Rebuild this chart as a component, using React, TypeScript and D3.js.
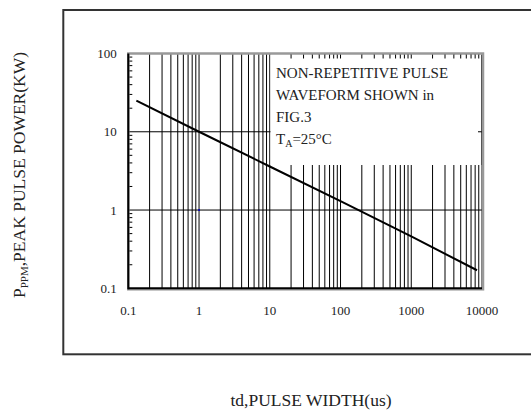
import * as d3 from 'd3'

// pulse width (us) vs peak pulse power (kW)
const pulseWidth = [0.13, 1, 10, 100, 1000, 8500]
const peakPower = [25, 10, 3.6, 1.3, 0.46, 0.17]

const xTicks = [0.1, 1, 10, 100, 1000, 10000]
const xTickLabels = ['0.1', '1', '10', '100', '1000', '10000']
const yTicks = [0.1, 1, 10, 100]
const yTickLabels = ['0.1', '1', '10', '100']

const noteLines = ['NON-REPETITIVE PULSE', 'WAVEFORM SHOWN in', 'FIG.3']

const W = 531
const H = 417
const FONT = '"Liberation Serif", "Times New Roman", serif'

export default function App() {
  const plot = { left: 128.3, right: 482, top: 53.5, bottom: 288.3 }
  const box = { left: 270.5, right: 481, top: 55, bottom: 165 }

  const x = d3.scaleLog().domain([0.1, 10000]).range([plot.left, plot.right])
  const y = d3.scaleLog().domain([0.1, 100]).range([plot.bottom, plot.top])

  // minor grid values 1..9 per decade
  const xGrid: number[] = []
  for (let d = 0.1; d < 10000; d *= 10) {
    for (let k = 1; k <= 9; k++) xGrid.push(+(k * d).toPrecision(3))
  }
  xGrid.push(10000)
  const yMinor: number[] = []
  for (let d = 0.1; d < 100; d *= 10) {
    for (let k = 2; k <= 9; k++) yMinor.push(+(k * d).toPrecision(3))
  }

  const points = pulseWidth.map((t, i) => [t, peakPower[i]] as [number, number])
  const line = d3.line<[number, number]>()
    .x(d => x(d[0]))
    .y(d => y(d[1]))

  return (
    <svg width={W} height={H} style={{ position: 'absolute', left: 0, top: 0, background: '#fff' }}
      fontFamily={FONT}>
      {/* outer frame */}
      <rect x={63.3} y={10} width={500} height={344.3} fill="none" stroke="#333" strokeWidth={2} />

      {/* vertical grid */}
      {xGrid.slice(1).map((v, i) => (
        <line key={'vx' + i} x1={x(v)} x2={x(v)} y1={plot.bottom} y2={plot.top}
          stroke="#000" strokeWidth={1} />
      ))}
      {/* horizontal grid */}
      {[1, 10].map(v => (
        <line key={'hy' + v} x1={plot.left} x2={plot.right} y1={y(v)} y2={y(v)}
          stroke="#000" strokeWidth={1} />
      ))}

      {/* note box covering the grid */}
      <rect x={box.left} y={box.top} width={box.right - box.left} height={box.bottom - box.top} fill="#fff" />
      {xGrid.filter(v => x(v) > box.left && v < 10000).map((v, i) => (
        <line key={'tt' + i} x1={x(v)} x2={x(v)} y1={plot.top} y2={plot.top + 5}
          stroke="#000" strokeWidth={1} />
      ))}
      <line x1={plot.right - 4} x2={plot.right} y1={y(10)} y2={y(10)} stroke="#000" strokeWidth={1} />
      <line x1={x(10000)} x2={x(10000)} y1={box.top} y2={box.bottom} stroke="#000" strokeWidth={1} />

      {/* left minor ticks */}
      {yMinor.map((v, i) => (
        <line key={'ym' + i} x1={plot.left} x2={plot.left + 4} y1={y(v)} y2={y(v)}
          stroke="#000" strokeWidth={1} />
      ))}

      {/* plot frame */}
      <rect x={plot.left} y={plot.top} width={plot.right - plot.left + 1} height={plot.bottom - plot.top + 1}
        fill="none" stroke="#999" strokeWidth={2.5} />
      <line x1={plot.left} x2={plot.left} y1={plot.top} y2={plot.bottom + 1} stroke="#000" strokeWidth={2} />
      <line x1={plot.left} x2={plot.right} y1={plot.bottom} y2={plot.bottom} stroke="#000" strokeWidth={2} />

      {/* curve */}
      <path d={line(points) || ''} fill="none" stroke="#000" strokeWidth={2} />
      <circle cx={x(1)} cy={y(1)} r={1} fill="#00c" />

      {/* note text */}
      {noteLines.map((s, i) => (
        <text key={'n' + i} x={276} y={78.3 + i * 21.8} fontSize={15} fill="#222">{s}</text>
      ))}
      <text x={276} y={144} fontSize={15} fill="#222">
        T<tspan fontSize={10} dy={3}>A</tspan><tspan dy={-3}>=25°C</tspan>
      </text>

      {/* tick labels */}
      {xTicks.map((v, i) => (
        <text key={'xl' + i} x={x(v)} y={314.5} fontSize={13} textAnchor="middle" fill="#222">
          {xTickLabels[i]}
        </text>
      ))}
      {yTicks.map((v, i) => (
        <text key={'yl' + i} x={116.7} y={y(v)} dy="0.35em" fontSize={13} textAnchor="end" fill="#222">
          {yTickLabels[i]}
        </text>
      ))}

      {/* axis titles */}
      <text x={311} y={406} fontSize={17.5} textAnchor="middle" fill="#222">td,PULSE WIDTH(us)</text>
      <text transform="translate(24.5,175) rotate(-90)" fontSize={17.5} textAnchor="middle" fill="#222">
        P<tspan fontSize={11} dy={3}>PPM</tspan><tspan dy={-3}>,PEAK PULSE POWER(KW)</tspan>
      </text>
    </svg>
  )
}
